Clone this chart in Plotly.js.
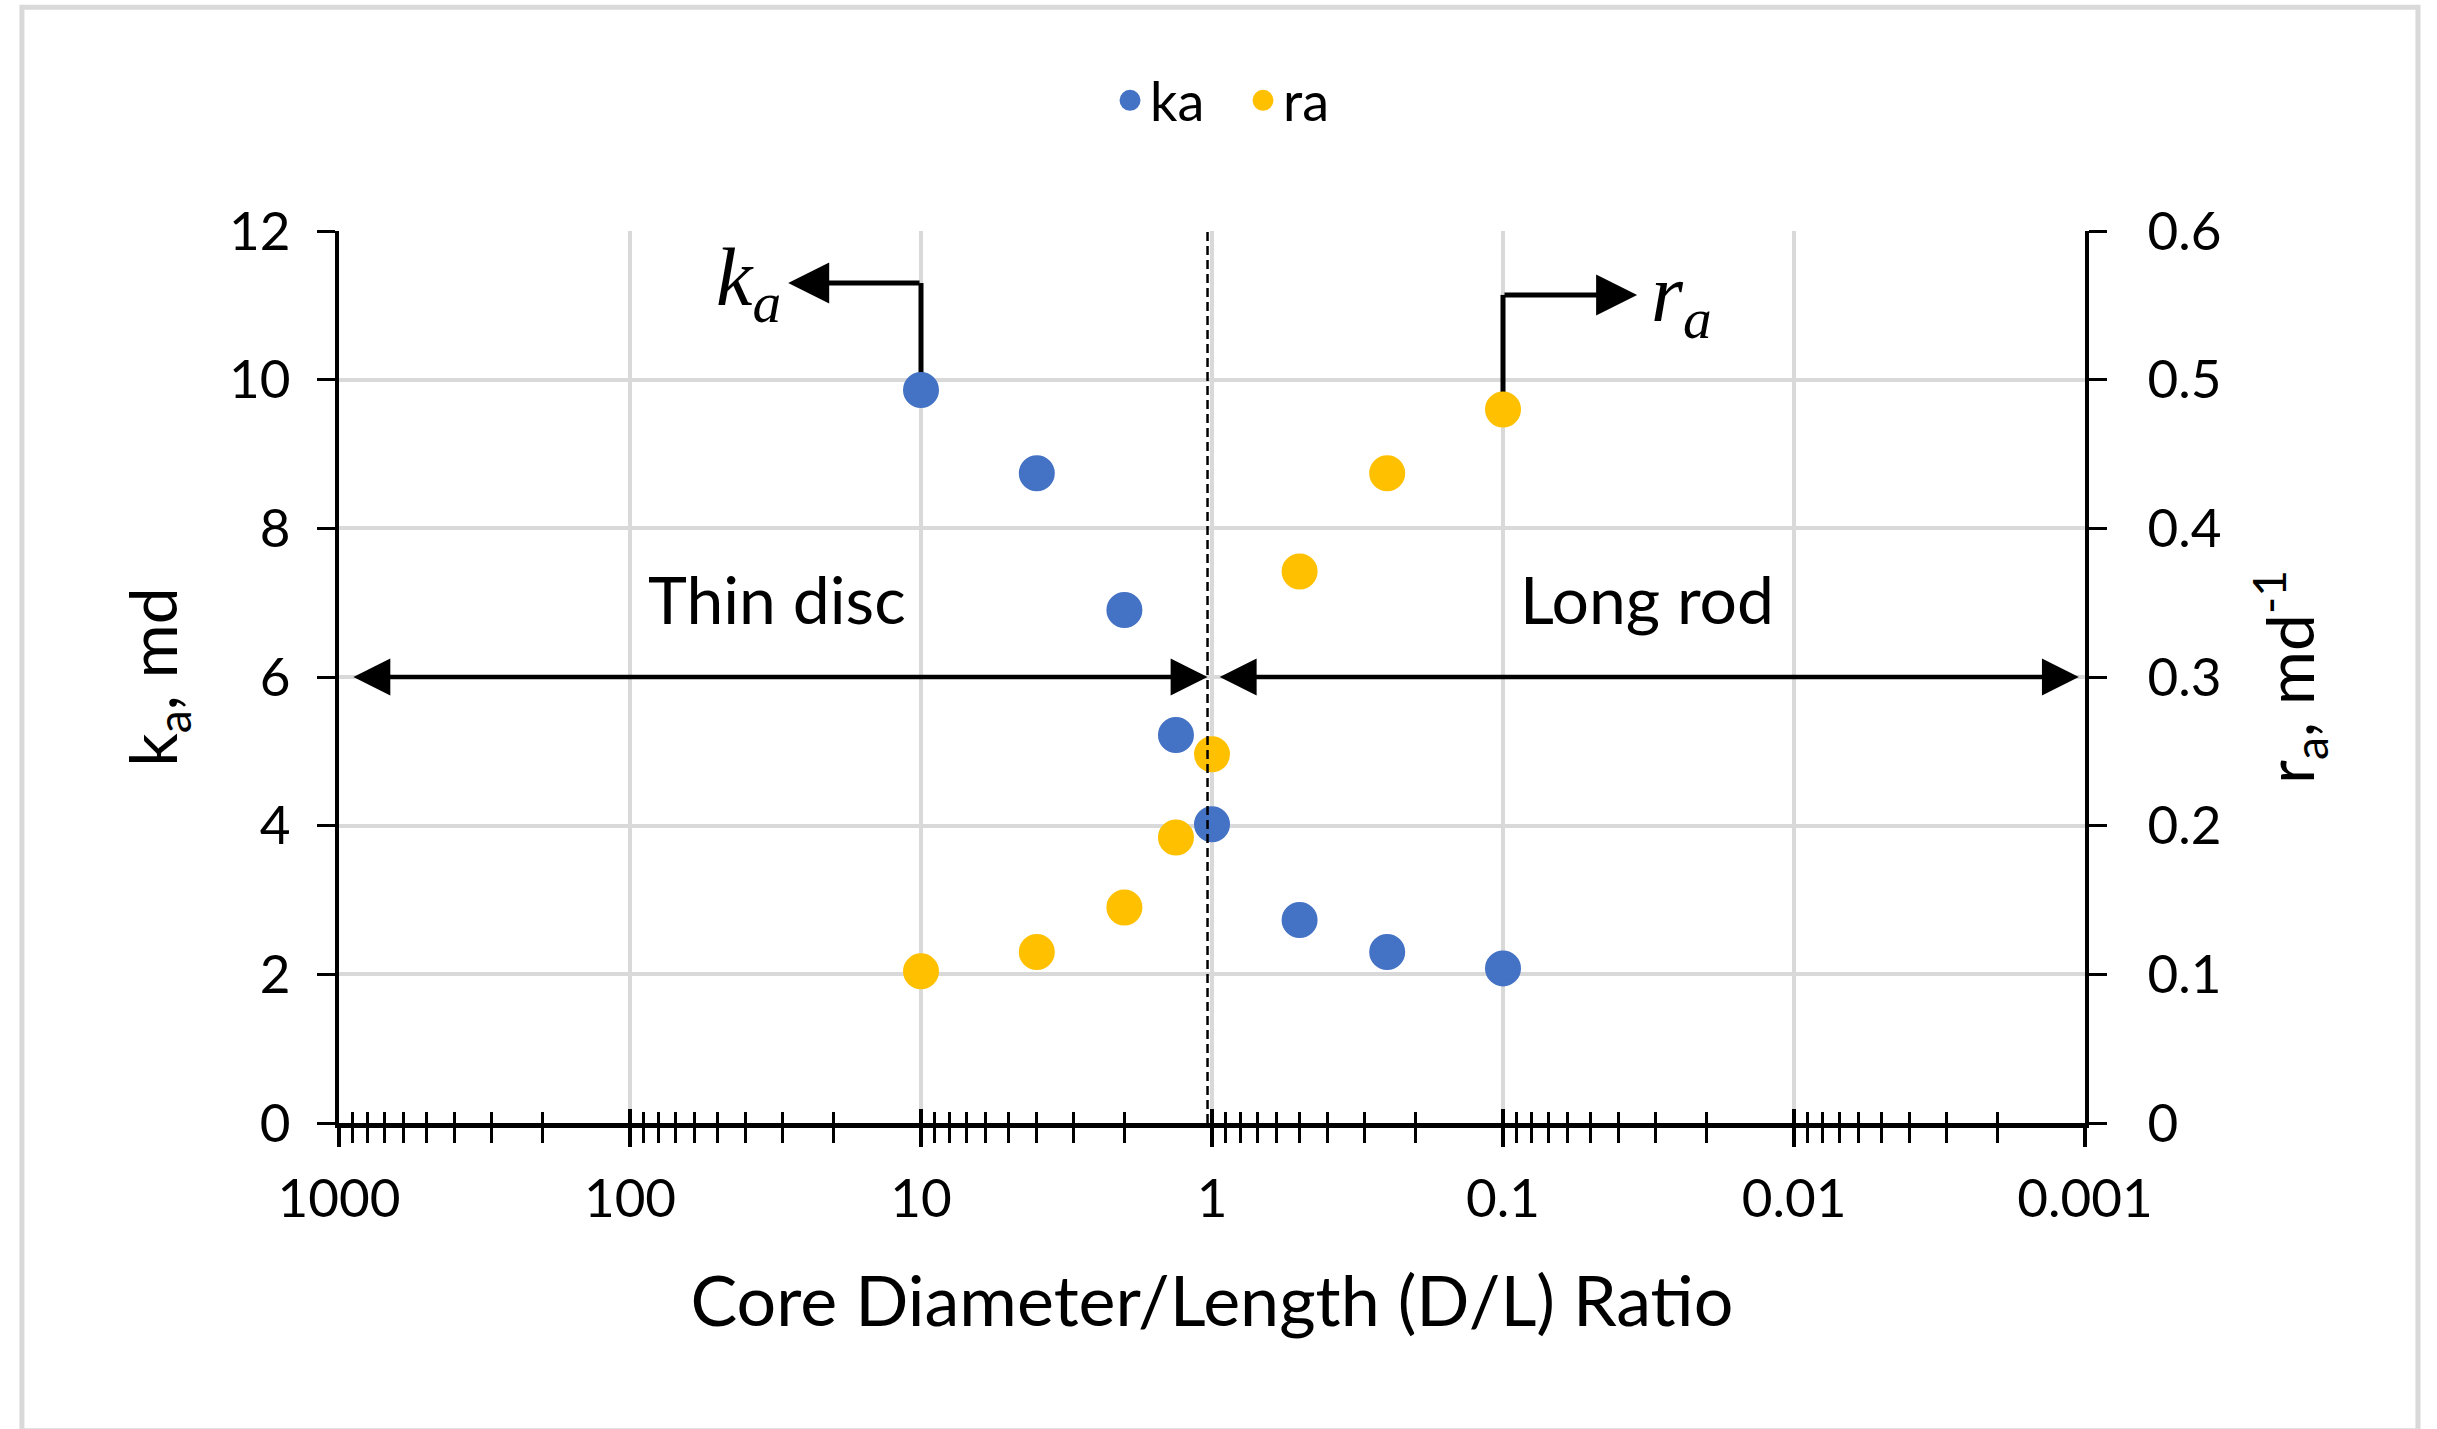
<!DOCTYPE html>
<html>
<head>
<meta charset="utf-8">
<script src="https://cdn.plot.ly/plotly-3.0.1.min.js"></script>
<style>
html, body { margin: 0; padding: 0; background: #ffffff; }
#chart { width: 2437px; height: 1429px; }
</style>
</head>
<body>
<div id="chart"></div>
<script>
// ---- data ----
const ratioDL = [10, 4, 2, 1.33, 1, 0.5, 0.25, 0.1];
const kaValues = [9.86, 8.74, 6.90, 5.22, 4.02, 2.73, 2.30, 2.08];
const raValues = [0.102, 0.115, 0.145, 0.192, 0.248, 0.371, 0.437, 0.480];
const seriesNames = ['ka', 'ra'];
const seriesColors = ['#4472C4', '#FFC000'];
const xTickVals = [1000, 100, 10, 1, 0.1, 0.01, 0.001];
const xTickText = ['1000', '100', '10', '1', '0.1', '0.01', '0.001'];
const xTitle = 'Core Diameter/Length (D/L) Ratio';
const yTitle = 'k<sub>a</sub>, md';
const y2Title = 'r<sub>a</sub>, md<sup>-1</sup>';
const regionLabels = ['Thin disc', 'Long rod'];
const yRange = [0, 12];
const y2Range = [0, 0.6];

// minor log ticks (2..9 within each decade)
const minorVals = [];
xTickVals.slice(1).forEach(function (base) {
  for (let m = 2; m <= 9; m++) minorVals.push(+(base * m).toPrecision(6));
});

const lg = Math.log10;
const y2ToY = function (v) { return v * (yRange[1] - yRange[0]) / (y2Range[1] - y2Range[0]); };
const FONT = 'Lato, "Open Sans", sans-serif';
const MATH_FONT = '"Liberation Serif", "DejaVu Serif", serif';

// annotation / guide geometry (in axis units)
const kaBendY = 11.30, kaArrowTip = 28.6;
const raBendY = 0.557, raArrowTip = 0.0346;
const splitX = 1.036;            // D/L = 1 divider
const thinDiscEnds = [903, 1.036];
const longRodEnds = [0.952, 0.00105];
const arrowY = 6;

const traces = [
  {
    x: ratioDL, y: kaValues, name: seriesNames[0], type: 'scatter', mode: 'markers',
    xaxis: 'x', yaxis: 'y',
    marker: { color: seriesColors[0], size: 31, line: { color: seriesColors[0], width: 5 } }
  },
  {
    x: ratioDL, y: raValues, name: seriesNames[1], type: 'scatter', mode: 'markers',
    xaxis: 'x', yaxis: 'y2',
    marker: { color: seriesColors[1], size: 31, line: { color: seriesColors[1], width: 5 } }
  },
  { x: [], y: [], xaxis: 'x2', yaxis: 'y', showlegend: false, hoverinfo: 'skip', type: 'scatter', mode: 'markers' }
];

const arrowCommon = {
  text: '', showarrow: true, arrowhead: 2, arrowsize: 1.64, arrowwidth: 4.5,
  arrowcolor: '#000000', xref: 'x', axref: 'x'
};

const layout = {
  width: 2437, height: 1429,
  margin: { l: 339, r: 352, t: 231, b: 306, pad: 0 },
  paper_bgcolor: '#ffffff', plot_bgcolor: '#ffffff',
  font: { family: FONT, size: 53, color: '#000000' },
  showlegend: true,
  legend: {
    orientation: 'h', x: 0.4416, xanchor: 'left', y: 1.146, yanchor: 'middle',
    entrywidth: 88, entrywidthmode: 'pixels',
    font: { family: FONT, size: 54, color: '#000000' }, bgcolor: 'rgba(0,0,0,0)'
  },
  xaxis: {
    type: 'log', range: [3, -3],
    tickmode: 'array', tickvals: xTickVals, ticktext: xTickText,
    ticks: 'outside', ticklen: 19, tickwidth: 3.5, tickcolor: '#000000',
    showline: true, linecolor: '#000000', linewidth: 5,
    showgrid: true, gridcolor: '#d9d9d9', gridwidth: 4, zeroline: false,
    minor: { tickvals: minorVals, ticks: 'outside', ticklen: 15, tickwidth: 3, tickcolor: '#000000', showgrid: false },
    tickfont: { family: FONT, size: 53 }, ticklabelstandoff: 6,
    title: { text: xTitle, font: { family: FONT, size: 70 }, standoff: 52 }
  },
  xaxis2: {
    type: 'log', range: [3, -3], overlaying: 'x', anchor: 'y', side: 'bottom',
    tickmode: 'array', tickvals: xTickVals,
    ticks: 'inside', ticklen: 14, tickwidth: 3.5, tickcolor: '#000000',
    showticklabels: false, showgrid: false, showline: false, zeroline: false,
    minor: { tickvals: minorVals, ticks: 'inside', ticklen: 11, tickwidth: 3, tickcolor: '#000000', showgrid: false }
  },
  yaxis: {
    range: yRange, tick0: 0, dtick: 2,
    ticks: 'outside', ticklen: 18, tickwidth: 3, tickcolor: '#000000',
    showline: true, linecolor: '#000000', linewidth: 4,
    showgrid: true, gridcolor: '#d9d9d9', gridwidth: 4, zeroline: false,
    tickfont: { family: FONT, size: 53 }, ticklabelstandoff: 16,
    title: { text: yTitle, font: { family: FONT, size: 66 }, standoff: 31 }
  },
  yaxis2: {
    overlaying: 'y', side: 'right', anchor: 'x',
    range: y2Range, tick0: 0, dtick: 0.1,
    ticks: 'outside', ticklen: 18, tickwidth: 3, tickcolor: '#000000',
    showline: true, linecolor: '#000000', linewidth: 4,
    showgrid: false, zeroline: false,
    tickfont: { family: FONT, size: 53 }, ticklabelstandoff: 30,
    title: { text: y2Title, font: { family: FONT, size: 66 }, standoff: 48 }
  },
  shapes: [
    // chart-area border
    { type: 'rect', xref: 'paper', yref: 'paper', x0: -0.1816, x1: 1.1907, y0: -0.345, y1: 1.2508,
      line: { color: '#d9d9d9', width: 5 }, fillcolor: 'rgba(0,0,0,0)', layer: 'below' },
    // D/L = 1 divider
    { type: 'line', xref: 'x', yref: 'y', x0: splitX, x1: splitX, y0: yRange[0], y1: yRange[1],
      line: { color: '#000000', width: 2.5, dash: '9px,5px' }, layer: 'above' },
    // ka leader
    { type: 'line', xref: 'x', yref: 'y', x0: ratioDL[0], x1: ratioDL[0], y0: kaValues[0], y1: kaBendY,
      line: { color: '#000000', width: 5 }, layer: 'between' },
    // ra leader (expressed on the left axis scale)
    { type: 'line', xref: 'x', yref: 'y', x0: ratioDL[7], x1: ratioDL[7], y0: y2ToY(raValues[7]), y1: y2ToY(raBendY),
      line: { color: '#000000', width: 5 }, layer: 'between' }
  ],
  annotations: [
    Object.assign({}, arrowCommon, { x: lg(kaArrowTip), y: kaBendY, ax: lg(ratioDL[0]), ay: kaBendY, yref: 'y', ayref: 'y', arrowwidth: 5 }),
    { text: '<i>k</i><sub><i>a</i></sub>', x: lg(29.9), y: kaBendY, xref: 'x', yref: 'y',
      xanchor: 'right', yanchor: 'middle', showarrow: false, font: { family: MATH_FONT, size: 82, color: '#000000' } },
    Object.assign({}, arrowCommon, { x: lg(raArrowTip), y: y2ToY(raBendY), ax: lg(ratioDL[7]), ay: y2ToY(raBendY), yref: 'y', ayref: 'y', arrowwidth: 5 }),
    { text: '<i>r</i><sub><i>a</i></sub>', x: lg(0.0315), y: y2ToY(0.554), xref: 'x', yref: 'y',
      xanchor: 'left', yanchor: 'middle', showarrow: false, font: { family: MATH_FONT, size: 82, color: '#000000' } },
    { text: regionLabels[0], x: lg(31.2), y: 7.06, xref: 'x', yref: 'y', showarrow: false,
      font: { family: FONT, size: 66, color: '#000000' } },
    { text: regionLabels[1], x: lg(0.0319), y: 7.06, xref: 'x', yref: 'y', showarrow: false,
      font: { family: FONT, size: 66, color: '#000000' } },
    Object.assign({}, arrowCommon, { x: lg(thinDiscEnds[1]), y: arrowY, ax: lg(thinDiscEnds[0]), ay: arrowY,
      yref: 'y', ayref: 'y', arrowside: 'end+start', startarrowhead: 2, startarrowsize: 1.64 }),
    Object.assign({}, arrowCommon, { x: lg(longRodEnds[1]), y: arrowY, ax: lg(longRodEnds[0]), ay: arrowY,
      yref: 'y', ayref: 'y', arrowside: 'end+start', startarrowhead: 2, startarrowsize: 1.64 })
  ]
};

Plotly.newPlot('chart', traces, layout, { displayModeBar: false, staticPlot: true });
</script>
</body>
</html>
